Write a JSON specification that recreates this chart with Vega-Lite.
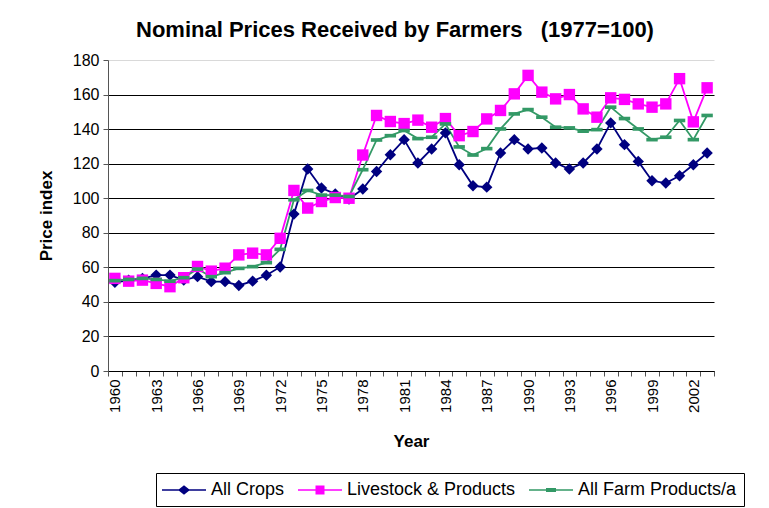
{
  "$schema": "https://vega.github.io/schema/vega-lite/v6.json",
  "width": 606,
  "height": 311,
  "autosize": "none",
  "padding": {"left": 108, "top": 60, "right": 55, "bottom": 137},
  "background": "white",
  "config": {
    "font": "Liberation Sans",
    "view": {"stroke": null},
    "axis": {"labelColor": "#000", "titleColor": "#000", "domainColor": "#555", "tickColor": "#555"}
  },
  "title": {
    "text": "Nominal Prices Received by Farmers\u00a0\u00a0 (1977=100)",
    "fontSize": 22,
    "fontWeight": "bold",
    "color": "#000",
    "anchor": "middle",
    "dx": -16,
    "offset": 10
  },
  "data": {
    "values": [
      {"Year": 1960, "Series": "All Crops", "Value": 51.3},
      {"Year": 1961, "Series": "All Crops", "Value": 52.5},
      {"Year": 1962, "Series": "All Crops", "Value": 53.5},
      {"Year": 1963, "Series": "All Crops", "Value": 55.5},
      {"Year": 1964, "Series": "All Crops", "Value": 55.5},
      {"Year": 1965, "Series": "All Crops", "Value": 52.6},
      {"Year": 1966, "Series": "All Crops", "Value": 54.6},
      {"Year": 1967, "Series": "All Crops", "Value": 51.7},
      {"Year": 1968, "Series": "All Crops", "Value": 51.7},
      {"Year": 1969, "Series": "All Crops", "Value": 49.5},
      {"Year": 1970, "Series": "All Crops", "Value": 52.0},
      {"Year": 1971, "Series": "All Crops", "Value": 55.4},
      {"Year": 1972, "Series": "All Crops", "Value": 60.2},
      {"Year": 1973, "Series": "All Crops", "Value": 90.8},
      {"Year": 1974, "Series": "All Crops", "Value": 116.9},
      {"Year": 1975, "Series": "All Crops", "Value": 105.9},
      {"Year": 1976, "Series": "All Crops", "Value": 102.5},
      {"Year": 1977, "Series": "All Crops", "Value": 99.5},
      {"Year": 1978, "Series": "All Crops", "Value": 105.3},
      {"Year": 1979, "Series": "All Crops", "Value": 115.5},
      {"Year": 1980, "Series": "All Crops", "Value": 125.2},
      {"Year": 1981, "Series": "All Crops", "Value": 133.9},
      {"Year": 1982, "Series": "All Crops", "Value": 120.4},
      {"Year": 1983, "Series": "All Crops", "Value": 128.5},
      {"Year": 1984, "Series": "All Crops", "Value": 137.8},
      {"Year": 1985, "Series": "All Crops", "Value": 119.4},
      {"Year": 1986, "Series": "All Crops", "Value": 107.2},
      {"Year": 1987, "Series": "All Crops", "Value": 106.4},
      {"Year": 1988, "Series": "All Crops", "Value": 126.2},
      {"Year": 1989, "Series": "All Crops", "Value": 133.9},
      {"Year": 1990, "Series": "All Crops", "Value": 128.5},
      {"Year": 1991, "Series": "All Crops", "Value": 129.1},
      {"Year": 1992, "Series": "All Crops", "Value": 120.4},
      {"Year": 1993, "Series": "All Crops", "Value": 116.9},
      {"Year": 1994, "Series": "All Crops", "Value": 120.4},
      {"Year": 1995, "Series": "All Crops", "Value": 128.5},
      {"Year": 1996, "Series": "All Crops", "Value": 143.6},
      {"Year": 1997, "Series": "All Crops", "Value": 131.0},
      {"Year": 1998, "Series": "All Crops", "Value": 121.3},
      {"Year": 1999, "Series": "All Crops", "Value": 110.1},
      {"Year": 2000, "Series": "All Crops", "Value": 108.8},
      {"Year": 2001, "Series": "All Crops", "Value": 113.0},
      {"Year": 2002, "Series": "All Crops", "Value": 119.4},
      {"Year": 2003, "Series": "All Crops", "Value": 126.2},
      {"Year": 1960, "Series": "Livestock & Products", "Value": 53.6},
      {"Year": 1961, "Series": "Livestock & Products", "Value": 52.0},
      {"Year": 1962, "Series": "Livestock & Products", "Value": 52.6},
      {"Year": 1963, "Series": "Livestock & Products", "Value": 50.7},
      {"Year": 1964, "Series": "Livestock & Products", "Value": 48.8},
      {"Year": 1965, "Series": "Livestock & Products", "Value": 54.0},
      {"Year": 1966, "Series": "Livestock & Products", "Value": 60.5},
      {"Year": 1967, "Series": "Livestock & Products", "Value": 57.8},
      {"Year": 1968, "Series": "Livestock & Products", "Value": 59.5},
      {"Year": 1969, "Series": "Livestock & Products", "Value": 67.2},
      {"Year": 1970, "Series": "Livestock & Products", "Value": 68.2},
      {"Year": 1971, "Series": "Livestock & Products", "Value": 67.2},
      {"Year": 1972, "Series": "Livestock & Products", "Value": 76.8},
      {"Year": 1973, "Series": "Livestock & Products", "Value": 104.5},
      {"Year": 1974, "Series": "Livestock & Products", "Value": 94.3},
      {"Year": 1975, "Series": "Livestock & Products", "Value": 98.1},
      {"Year": 1976, "Series": "Livestock & Products", "Value": 100.4},
      {"Year": 1977, "Series": "Livestock & Products", "Value": 100.0},
      {"Year": 1978, "Series": "Livestock & Products", "Value": 125.0},
      {"Year": 1979, "Series": "Livestock & Products", "Value": 147.9},
      {"Year": 1980, "Series": "Livestock & Products", "Value": 144.4},
      {"Year": 1981, "Series": "Livestock & Products", "Value": 143.2},
      {"Year": 1982, "Series": "Livestock & Products", "Value": 145.2},
      {"Year": 1983, "Series": "Livestock & Products", "Value": 141.1},
      {"Year": 1984, "Series": "Livestock & Products", "Value": 146.1},
      {"Year": 1985, "Series": "Livestock & Products", "Value": 136.2},
      {"Year": 1986, "Series": "Livestock & Products", "Value": 138.6},
      {"Year": 1987, "Series": "Livestock & Products", "Value": 145.9},
      {"Year": 1988, "Series": "Livestock & Products", "Value": 150.8},
      {"Year": 1989, "Series": "Livestock & Products", "Value": 160.4},
      {"Year": 1990, "Series": "Livestock & Products", "Value": 171.1},
      {"Year": 1991, "Series": "Livestock & Products", "Value": 161.4},
      {"Year": 1992, "Series": "Livestock & Products", "Value": 157.5},
      {"Year": 1993, "Series": "Livestock & Products", "Value": 160.0},
      {"Year": 1994, "Series": "Livestock & Products", "Value": 151.7},
      {"Year": 1995, "Series": "Livestock & Products", "Value": 146.9},
      {"Year": 1996, "Series": "Livestock & Products", "Value": 158.1},
      {"Year": 1997, "Series": "Livestock & Products", "Value": 157.2},
      {"Year": 1998, "Series": "Livestock & Products", "Value": 154.6},
      {"Year": 1999, "Series": "Livestock & Products", "Value": 152.7},
      {"Year": 2000, "Series": "Livestock & Products", "Value": 154.6},
      {"Year": 2001, "Series": "Livestock & Products", "Value": 169.2},
      {"Year": 2002, "Series": "Livestock & Products", "Value": 144.2},
      {"Year": 2003, "Series": "Livestock & Products", "Value": 163.9},
      {"Year": 1960, "Series": "All Farm Products/a", "Value": 52.3},
      {"Year": 1961, "Series": "All Farm Products/a", "Value": 53.0},
      {"Year": 1962, "Series": "All Farm Products/a", "Value": 53.6},
      {"Year": 1963, "Series": "All Farm Products/a", "Value": 53.0},
      {"Year": 1964, "Series": "All Farm Products/a", "Value": 52.0},
      {"Year": 1965, "Series": "All Farm Products/a", "Value": 54.0},
      {"Year": 1966, "Series": "All Farm Products/a", "Value": 59.0},
      {"Year": 1967, "Series": "All Farm Products/a", "Value": 54.6},
      {"Year": 1968, "Series": "All Farm Products/a", "Value": 56.9},
      {"Year": 1969, "Series": "All Farm Products/a", "Value": 59.4},
      {"Year": 1970, "Series": "All Farm Products/a", "Value": 60.4},
      {"Year": 1971, "Series": "All Farm Products/a", "Value": 62.7},
      {"Year": 1972, "Series": "All Farm Products/a", "Value": 70.4},
      {"Year": 1973, "Series": "All Farm Products/a", "Value": 99.1},
      {"Year": 1974, "Series": "All Farm Products/a", "Value": 104.5},
      {"Year": 1975, "Series": "All Farm Products/a", "Value": 101.8},
      {"Year": 1976, "Series": "All Farm Products/a", "Value": 101.8},
      {"Year": 1977, "Series": "All Farm Products/a", "Value": 101.0},
      {"Year": 1978, "Series": "All Farm Products/a", "Value": 116.5},
      {"Year": 1979, "Series": "All Farm Products/a", "Value": 133.7},
      {"Year": 1980, "Series": "All Farm Products/a", "Value": 136.2},
      {"Year": 1981, "Series": "All Farm Products/a", "Value": 139.2},
      {"Year": 1982, "Series": "All Farm Products/a", "Value": 134.5},
      {"Year": 1983, "Series": "All Farm Products/a", "Value": 135.3},
      {"Year": 1984, "Series": "All Farm Products/a", "Value": 143.0},
      {"Year": 1985, "Series": "All Farm Products/a", "Value": 129.7},
      {"Year": 1986, "Series": "All Farm Products/a", "Value": 125.0},
      {"Year": 1987, "Series": "All Farm Products/a", "Value": 128.7},
      {"Year": 1988, "Series": "All Farm Products/a", "Value": 140.1},
      {"Year": 1989, "Series": "All Farm Products/a", "Value": 148.8},
      {"Year": 1990, "Series": "All Farm Products/a", "Value": 151.3},
      {"Year": 1991, "Series": "All Farm Products/a", "Value": 146.9},
      {"Year": 1992, "Series": "All Farm Products/a", "Value": 141.1},
      {"Year": 1993, "Series": "All Farm Products/a", "Value": 140.7},
      {"Year": 1994, "Series": "All Farm Products/a", "Value": 138.8},
      {"Year": 1995, "Series": "All Farm Products/a", "Value": 139.7},
      {"Year": 1996, "Series": "All Farm Products/a", "Value": 152.7},
      {"Year": 1997, "Series": "All Farm Products/a", "Value": 146.1},
      {"Year": 1998, "Series": "All Farm Products/a", "Value": 140.1},
      {"Year": 1999, "Series": "All Farm Products/a", "Value": 133.9},
      {"Year": 2000, "Series": "All Farm Products/a", "Value": 135.3},
      {"Year": 2001, "Series": "All Farm Products/a", "Value": 145.0},
      {"Year": 2002, "Series": "All Farm Products/a", "Value": 133.9},
      {"Year": 2003, "Series": "All Farm Products/a", "Value": 147.9}
    ]
  },
  "encoding": {
    "x": {
      "field": "Year",
      "type": "ordinal",
      "scale": {"type": "band", "paddingInner": 0, "paddingOuter": 0},
      "axis": {
        "title": "Year",
        "titleFontSize": 17,
        "titleFontWeight": "bold",
        "titlePadding": 21,
        "labelAngle": 270,
        "labelAlign": "right",
        "labelBaseline": "middle",
        "labelFontSize": 15,
        "labelPadding": 3,
        "labelExpr": "(datum.value - 1960) % 3 == 0 ? datum.label : ''",
        "tickBand": "extent",
        "tickSize": 5,
        "domainColor": "#000",
        "labelOverlap": false,
        "grid": false
      }
    },
    "y": {
      "field": "Value",
      "type": "quantitative",
      "scale": {"domain": [0, 180], "nice": false},
      "axis": {
        "title": "Price index",
        "titleFontSize": 17,
        "titleFontWeight": "bold",
        "titlePadding": 17,
        "values": [0, 20, 40, 60, 80, 100, 120, 140, 160, 180],
        "labelFontSize": 16,
        "labelPadding": 4,
        "tickSize": 5,
        "grid": true,
        "gridColor": {"condition": {"test": "datum.value == 180", "value": "#d9d9d9"}, "value": "#000"},
        "gridOpacity": 1,
        "gridWidth": 1
      }
    }
  },
  "resolve": {"scale": {"shape": "independent"}, "legend": {"color": "independent", "shape": "independent"}},
  "layer": [
    {
      "mark": {"type": "line", "strokeWidth": 1.8},
      "encoding": {
        "color": {
          "field": "Series",
          "type": "nominal",
          "scale": {
            "domain": ["All Crops", "Livestock & Products", "All Farm Products/a"],
            "range": ["#000080", "#FF00FF", "#339966"]
          },
          "legend": null
        }
      }
    },
    {
      "mark": {"type": "point", "filled": true, "opacity": 1, "size": 130},
      "encoding": {
        "color": {
          "field": "Series",
          "type": "nominal",
          "scale": {
            "domain": ["All Crops", "Livestock & Products", "All Farm Products/a"],
            "range": ["#000080", "#FF00FF", "#339966"]
          },
          "legend": null
        },
        "shape": {
          "field": "Series",
          "type": "nominal",
          "scale": {
            "domain": ["All Crops", "Livestock & Products", "All Farm Products/a"],
            "range": ["diamond", "square", "M-1,-0.32H1V0.32H-1Z"]
          },
          "legend": null
        }
      }
    },
    {
      "transform": [{"filter": "datum.Value < 0"}],
      "mark": {"type": "point", "filled": true, "opacity": 1, "size": 400},
      "encoding": {
        "color": {
          "field": "Series",
          "type": "nominal",
          "scale": {
            "domain": ["All Crops", "Livestock & Products", "All Farm Products/a"],
            "range": ["#000080", "#FF00FF", "#339966"]
          },
          "legend": {
            "title": null,
            "orient": "none",
            "legendX": 48,
            "legendY": 413,
            "direction": "horizontal",
            "strokeColor": "#000",
            "fillColor": "white",
            "padding": 7,
            "labelFontSize": 18,
            "labelColor": "#000",
            "labelLimit": 400,
            "symbolSize": 400,
            "symbolOffset": 11,
            "labelOffset": 17,
            "columnPadding": 13,
            "symbolStrokeWidth": 0
          }
        },
        "shape": {
          "field": "Series",
          "type": "nominal",
          "scale": {
            "domain": ["All Crops", "Livestock & Products", "All Farm Products/a"],
            "range": [
              "M-2.2,-0.08H2.2V0.08H-2.2ZM0,-0.48L0.6,0L0,0.48L-0.6,0Z",
              "M-2.2,-0.08H2.2V0.08H-2.2ZM-0.45,-0.45H0.45V0.45H-0.45Z",
              "M-2.2,-0.08H2.2V0.08H-2.2ZM-0.5,-0.2H0.5V0.2H-0.5Z"
            ]
          },
          "legend": null
        }
      }
    }
  ]
}
